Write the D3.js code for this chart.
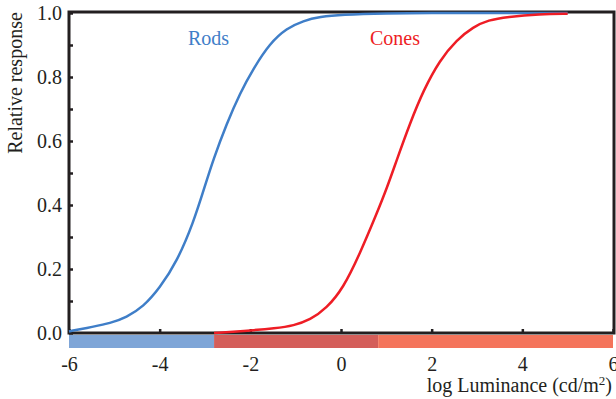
<!DOCTYPE html>
<html>
<head>
<meta charset="utf-8">
<script src="https://cdn.jsdelivr.net/npm/d3@7"></script>
<style>
  body { margin: 0; background: #fff; }
  svg { display: block; }
  svg text { font-family: "Liberation Serif", "Times New Roman", Times, "DejaVu Serif", "Noto Serif", serif; }
  .axis path { display: none; }
  .axis line { stroke: #231f20; stroke-width: 2.5px; }
  .axis text { font-size: 20px; fill: #231f20; }
</style>
</head>
<body>
<div id="canvas"></div>
<script>
// ---- DATA ----
// log luminance (cd/m2) and relative response
var rodLum  = [-6, -5.46, -5.1, -4.73, -4.36, -4.0, -3.62, -3.26, -3.0, -2.82, -2.52, -2.23, -1.93, -1.57, -1.2, -0.83, -0.46, 0, 1, 2, 3, 4, 5];
var rodResp = [0.005, 0.02, 0.03, 0.049, 0.082, 0.14, 0.223, 0.343, 0.46, 0.541, 0.655, 0.749, 0.827, 0.905, 0.952, 0.976, 0.988, 0.995, 0.999, 1, 1, 1, 1];

var coneLum  = [-2.8, -2.16, -1.42, -1.05, -0.68, -0.32, 0.05, 0.42, 0.79, 1.01, 1.23, 1.52, 1.82, 2.18, 2.55, 2.92, 3.25, 3.66, 4.39, 5];
var coneResp = [0, 0.006, 0.015, 0.023, 0.041, 0.077, 0.14, 0.249, 0.374, 0.452, 0.541, 0.655, 0.759, 0.853, 0.916, 0.957, 0.978, 0.988, 0.997, 0.998];

// bottom band: scotopic / mesopic / photopic ranges
var bandStart = [-6, -2.8, 0.82];
var bandEnd   = [-2.8, 0.82, 6];
var bandColor = ['#7ea5d7', '#d45e5a', '#f4745b'];

var xTicks = [-6, -4, -2, 0, 2, 4, 6];
var yTicks = [0, 0.2, 0.4, 0.6, 0.8, 1.0];
var yMinorTicks = [0.1, 0.3, 0.5, 0.7, 0.9];

// ---- CONVENTIONS ----
var outerWidth = 616, outerHeight = 399;
var margin = {top: 12, right: 3, bottom: 66, left: 69};

var svg = d3.select('#canvas')
    .append('svg')
    .attr('width', outerWidth)
    .attr('height', outerHeight);

var plot = svg.append('g')
    .attr('transform', 'translate(' + margin.left + ',' + margin.top + ')');

// ---- SCALES ----
var scaleX = d3.scaleLinear()
    .domain([-6, 6])
    .range([0, 544]);

var scaleY = d3.scaleLinear()
    .domain([0, 1])
    .range([321, 1]);

// ---- BAND ----
plot.selectAll('.band')
    .data(bandStart)
    .enter()
    .append('rect')
    .attr('class', 'band')
    .attr('x', function(d){ return scaleX(d); })
    .attr('width', function(d, i){ return scaleX(bandEnd[i]) - scaleX(d); })
    .attr('y', 323)
    .attr('height', 13)
    .style('fill', function(d, i){ return bandColor[i]; });

// ---- AXES ----
var axisX = d3.axisBottom()
    .scale(scaleX)
    .tickValues(xTicks)
    .tickSize(-4)
    .tickPadding(24)
    .tickFormat(function(d){ return d < 0 ? '-' + Math.abs(d) : d; });

var axisY = d3.axisLeft()
    .scale(scaleY)
    .tickValues(yTicks)
    .tickSize(-4)
    .tickPadding(7)
    .tickFormat(d3.format('.1f'));

var axisYMinor = d3.axisLeft()
    .scale(scaleY)
    .tickValues(yMinorTicks)
    .tickSize(-4)
    .tickFormat('');

plot.append('g').attr('class', 'axis axis-x')
    .attr('transform', 'translate(0,' + scaleY(0) + ')')
    .call(axisX);
plot.append('g').attr('class', 'axis axis-y')
    .call(axisY);
plot.append('g').attr('class', 'axis axis-y-minor')
    .call(axisYMinor);

// clear the sans-serif that d3 puts on the axis groups
plot.selectAll('.axis').attr('font-family', null).attr('font-size', null);

// frame
plot.append('rect')
    .attr('x', scaleX(-6))
    .attr('y', 0)
    .attr('width', scaleX(6) - scaleX(-6) + 1)
    .attr('height', scaleY(0))
    .style('fill', 'none')
    .style('stroke', '#231f20')
    .style('stroke-width', 3);

// ---- LINES ----
var lineGenerator = d3.line()
    .x(function(d){ return scaleX(d[0]); })
    .y(function(d){ return scaleY(d[1]); })
    .curve(d3.curveBasis);

plot.append('path')
    .datum(d3.zip(rodLum, rodResp))
    .attr('d', lineGenerator)
    .style('fill', 'none')
    .style('stroke', '#3f7ec8')
    .style('stroke-width', '2.5px');

plot.append('path')
    .datum(d3.zip(coneLum, coneResp))
    .attr('d', lineGenerator)
    .style('fill', 'none')
    .style('stroke', '#ee1d25')
    .style('stroke-width', '2.5px');

// ---- LABELS ----
plot.append('text')
    .attr('x', 119)
    .attr('y', 33)
    .style('font-size', '20px')
    .style('fill', '#3f7ec8')
    .text('Rods');

plot.append('text')
    .attr('x', 301)
    .attr('y', 33)
    .style('font-size', '20px')
    .style('fill', '#ee1d25')
    .text('Cones');

svg.append('text')
    .attr('transform', 'translate(22,83) rotate(-90)')
    .attr('text-anchor', 'middle')
    .style('font-size', '20px')
    .style('fill', '#231f20')
    .text('Relative response');

var xTitle = svg.append('text')
    .attr('x', 612)
    .attr('y', 392)
    .attr('text-anchor', 'end')
    .style('font-size', '20px')
    .style('fill', '#231f20');
xTitle.append('tspan').text('log Luminance (cd/m');
xTitle.append('tspan').attr('dy', -7).style('font-size', '13px').text('2');
xTitle.append('tspan').attr('dy', 7).text(')');
</script>
</body>
</html>
